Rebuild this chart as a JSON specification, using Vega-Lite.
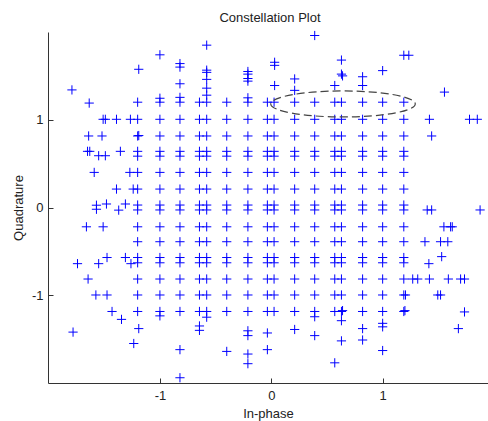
{
  "$schema": "https://vega.github.io/schema/vega-lite/v6.json",
  "width": 440,
  "height": 351,
  "autosize": "none",
  "padding": {"left": 48, "top": 32, "right": 0, "bottom": 38},
  "background": "white",
  "config": {"view": {"stroke": null}},
  "title": {"text": "Constellation Plot", "font": "Liberation Sans", "fontSize": 13, "fontWeight": "normal", "color": "#222222", "anchor": "middle", "baseline": "alphabetic", "offset": 11, "dx": 2, "dy": 17},
  "layer": [
    {
      "data": {"values": [
        {"i":-1.2,"q":1.2},{"i":-1.0,"q":1.2},{"i":-0.82,"q":1.2},{"i":-0.645,"q":1.2},{"i":-0.58,"q":1.2},{"i":-0.4,"q":1.2},{"i":-0.21,"q":1.2},{"i":-0.035,"q":1.2},{"i":0.025,"q":1.2},{"i":0.21,"q":1.2},{"i":0.39,"q":1.2},{"i":0.57,"q":1.2},{"i":0.63,"q":1.2},{"i":0.82,"q":1.2},{"i":1.0,"q":1.2},{"i":1.19,"q":1.2},
        {"i":-1.2,"q":1.005},{"i":-1.0,"q":1.005},{"i":-0.82,"q":1.005},{"i":-0.645,"q":1.005},{"i":-0.58,"q":1.005},{"i":-0.4,"q":1.005},{"i":-0.21,"q":1.005},{"i":-0.035,"q":1.005},{"i":0.025,"q":1.005},{"i":0.21,"q":1.005},{"i":0.39,"q":1.005},{"i":0.57,"q":1.005},{"i":0.63,"q":1.005},{"i":0.82,"q":1.005},{"i":1.0,"q":1.005},{"i":1.19,"q":1.005},
        {"i":-1.2,"q":0.815},{"i":-1.0,"q":0.815},{"i":-0.82,"q":0.815},{"i":-0.645,"q":0.815},{"i":-0.58,"q":0.815},{"i":-0.4,"q":0.815},{"i":-0.21,"q":0.815},{"i":-0.035,"q":0.815},{"i":0.025,"q":0.815},{"i":0.21,"q":0.815},{"i":0.39,"q":0.815},{"i":0.57,"q":0.815},{"i":0.63,"q":0.815},{"i":0.82,"q":0.815},{"i":1.0,"q":0.815},{"i":1.19,"q":0.815},
        {"i":-1.2,"q":0.64},{"i":-1.0,"q":0.64},{"i":-0.82,"q":0.64},{"i":-0.645,"q":0.64},{"i":-0.58,"q":0.64},{"i":-0.4,"q":0.64},{"i":-0.21,"q":0.64},{"i":-0.035,"q":0.64},{"i":0.025,"q":0.64},{"i":0.21,"q":0.64},{"i":0.39,"q":0.64},{"i":0.57,"q":0.64},{"i":0.63,"q":0.64},{"i":0.82,"q":0.64},{"i":1.0,"q":0.64},{"i":1.19,"q":0.64},
        {"i":-1.2,"q":0.585},{"i":-1.0,"q":0.585},{"i":-0.82,"q":0.585},{"i":-0.645,"q":0.585},{"i":-0.58,"q":0.585},{"i":-0.4,"q":0.585},{"i":-0.21,"q":0.585},{"i":-0.035,"q":0.585},{"i":0.025,"q":0.585},{"i":0.21,"q":0.585},{"i":0.39,"q":0.585},{"i":0.57,"q":0.585},{"i":0.63,"q":0.585},{"i":0.82,"q":0.585},{"i":1.0,"q":0.585},{"i":1.19,"q":0.585},
        {"i":-1.2,"q":0.4},{"i":-1.0,"q":0.4},{"i":-0.82,"q":0.4},{"i":-0.645,"q":0.4},{"i":-0.58,"q":0.4},{"i":-0.4,"q":0.4},{"i":-0.21,"q":0.4},{"i":-0.035,"q":0.4},{"i":0.025,"q":0.4},{"i":0.21,"q":0.4},{"i":0.39,"q":0.4},{"i":0.57,"q":0.4},{"i":0.63,"q":0.4},{"i":0.82,"q":0.4},{"i":1.0,"q":0.4},{"i":1.19,"q":0.4},
        {"i":-1.2,"q":0.21},{"i":-1.0,"q":0.21},{"i":-0.82,"q":0.21},{"i":-0.645,"q":0.21},{"i":-0.58,"q":0.21},{"i":-0.4,"q":0.21},{"i":-0.21,"q":0.21},{"i":-0.035,"q":0.21},{"i":0.025,"q":0.21},{"i":0.21,"q":0.21},{"i":0.39,"q":0.21},{"i":0.57,"q":0.21},{"i":0.63,"q":0.21},{"i":0.82,"q":0.21},{"i":1.0,"q":0.21},{"i":1.19,"q":0.21},
        {"i":-1.2,"q":0.028},{"i":-1.0,"q":0.028},{"i":-0.82,"q":0.028},{"i":-0.645,"q":0.028},{"i":-0.58,"q":0.028},{"i":-0.4,"q":0.028},{"i":-0.21,"q":0.028},{"i":-0.035,"q":0.028},{"i":0.025,"q":0.028},{"i":0.21,"q":0.028},{"i":0.39,"q":0.028},{"i":0.57,"q":0.028},{"i":0.63,"q":0.028},{"i":0.82,"q":0.028},{"i":1.0,"q":0.028},{"i":1.19,"q":0.028},
        {"i":-1.2,"q":-0.028},{"i":-1.0,"q":-0.028},{"i":-0.82,"q":-0.028},{"i":-0.645,"q":-0.028},{"i":-0.58,"q":-0.028},{"i":-0.4,"q":-0.028},{"i":-0.21,"q":-0.028},{"i":-0.035,"q":-0.028},{"i":0.025,"q":-0.028},{"i":0.21,"q":-0.028},{"i":0.39,"q":-0.028},{"i":0.57,"q":-0.028},{"i":0.63,"q":-0.028},{"i":0.82,"q":-0.028},{"i":1.0,"q":-0.028},{"i":1.19,"q":-0.028},
        {"i":-1.2,"q":-0.22},{"i":-1.0,"q":-0.22},{"i":-0.82,"q":-0.22},{"i":-0.645,"q":-0.22},{"i":-0.58,"q":-0.22},{"i":-0.4,"q":-0.22},{"i":-0.21,"q":-0.22},{"i":-0.035,"q":-0.22},{"i":0.025,"q":-0.22},{"i":0.21,"q":-0.22},{"i":0.39,"q":-0.22},{"i":0.57,"q":-0.22},{"i":0.63,"q":-0.22},{"i":0.82,"q":-0.22},{"i":1.0,"q":-0.22},{"i":1.19,"q":-0.22},
        {"i":-1.2,"q":-0.39},{"i":-1.0,"q":-0.39},{"i":-0.82,"q":-0.39},{"i":-0.645,"q":-0.39},{"i":-0.58,"q":-0.39},{"i":-0.4,"q":-0.39},{"i":-0.21,"q":-0.39},{"i":-0.035,"q":-0.39},{"i":0.025,"q":-0.39},{"i":0.21,"q":-0.39},{"i":0.39,"q":-0.39},{"i":0.57,"q":-0.39},{"i":0.63,"q":-0.39},{"i":0.82,"q":-0.39},{"i":1.0,"q":-0.39},{"i":1.19,"q":-0.39},
        {"i":-1.2,"q":-0.57},{"i":-1.0,"q":-0.57},{"i":-0.82,"q":-0.57},{"i":-0.645,"q":-0.57},{"i":-0.58,"q":-0.57},{"i":-0.4,"q":-0.57},{"i":-0.21,"q":-0.57},{"i":-0.035,"q":-0.57},{"i":0.025,"q":-0.57},{"i":0.21,"q":-0.57},{"i":0.39,"q":-0.57},{"i":0.57,"q":-0.57},{"i":0.63,"q":-0.57},{"i":0.82,"q":-0.57},{"i":1.0,"q":-0.57},{"i":1.19,"q":-0.57},
        {"i":-1.2,"q":-0.63},{"i":-1.0,"q":-0.63},{"i":-0.82,"q":-0.63},{"i":-0.645,"q":-0.63},{"i":-0.58,"q":-0.63},{"i":-0.4,"q":-0.63},{"i":-0.21,"q":-0.63},{"i":-0.035,"q":-0.63},{"i":0.025,"q":-0.63},{"i":0.21,"q":-0.63},{"i":0.39,"q":-0.63},{"i":0.57,"q":-0.63},{"i":0.63,"q":-0.63},{"i":0.82,"q":-0.63},{"i":1.0,"q":-0.63},{"i":1.19,"q":-0.63},
        {"i":-1.2,"q":-0.815},{"i":-1.0,"q":-0.815},{"i":-0.82,"q":-0.815},{"i":-0.645,"q":-0.815},{"i":-0.58,"q":-0.815},{"i":-0.4,"q":-0.815},{"i":-0.21,"q":-0.815},{"i":-0.035,"q":-0.815},{"i":0.025,"q":-0.815},{"i":0.21,"q":-0.815},{"i":0.39,"q":-0.815},{"i":0.57,"q":-0.815},{"i":0.63,"q":-0.815},{"i":0.82,"q":-0.815},{"i":1.0,"q":-0.815},{"i":1.19,"q":-0.815},
        {"i":-1.2,"q":-0.997},{"i":-1.0,"q":-0.997},{"i":-0.82,"q":-0.997},{"i":-0.645,"q":-0.997},{"i":-0.58,"q":-0.997},{"i":-0.4,"q":-0.997},{"i":-0.21,"q":-0.997},{"i":-0.035,"q":-0.997},{"i":0.025,"q":-0.997},{"i":0.21,"q":-0.997},{"i":0.39,"q":-0.997},{"i":0.57,"q":-0.997},{"i":0.63,"q":-0.997},{"i":0.82,"q":-0.997},{"i":1.0,"q":-0.997},{"i":1.19,"q":-0.997},
        {"i":-1.2,"q":-1.185},{"i":-1.0,"q":-1.185},{"i":-0.82,"q":-1.185},{"i":-0.645,"q":-1.185},{"i":-0.58,"q":-1.185},{"i":-0.4,"q":-1.185},{"i":-0.21,"q":-1.185},{"i":-0.035,"q":-1.185},{"i":0.025,"q":-1.185},{"i":0.21,"q":-1.185},{"i":0.39,"q":-1.185},{"i":0.57,"q":-1.185},{"i":0.63,"q":-1.185},{"i":0.82,"q":-1.185},{"i":1.0,"q":-1.185},{"i":1.19,"q":-1.185},
        {"i":-1.79,"q":1.34},{"i":-1.635,"q":1.19},{"i":-1.19,"q":1.575},{"i":-1.0,"q":1.74},{"i":-0.82,"q":1.64},{"i":-0.82,"q":1.6},{"i":-0.82,"q":1.41},{"i":-0.58,"q":1.85},{"i":-0.58,"q":1.565},{"i":-0.58,"q":1.54},{"i":-0.58,"q":1.46},{"i":-0.58,"q":1.36},{"i":-0.58,"q":1.28},{"i":-1.0,"q":1.245},{"i":-0.82,"q":1.255},{"i":-0.21,"q":1.25},{"i":-0.21,"q":1.55},{"i":-0.21,"q":1.52},{"i":-0.21,"q":1.47},{"i":-0.21,"q":1.44},
        {"i":-1.51,"q":1.005},{"i":-1.49,"q":1.005},{"i":-1.39,"q":1.005},{"i":-1.265,"q":1.005},
        {"i":-1.64,"q":0.815},{"i":-1.52,"q":0.815},{"i":-1.19,"q":0.82},
        {"i":-1.65,"q":0.64},{"i":-1.63,"q":0.64},{"i":-1.55,"q":0.59},{"i":-1.49,"q":0.59},{"i":-1.355,"q":0.64},
        {"i":-1.59,"q":0.4},{"i":-1.27,"q":0.4},
        {"i":-1.39,"q":0.21},{"i":-1.24,"q":0.21},
        {"i":-1.57,"q":0.026},{"i":-1.57,"q":-0.02},{"i":-1.48,"q":0.04},{"i":-1.37,"q":-0.03},{"i":-1.31,"q":0.04},
        {"i":-1.66,"q":-0.22},{"i":-1.51,"q":-0.22},
        {"i":-1.74,"q":-0.64},{"i":-1.55,"q":-0.64},{"i":-1.475,"q":-0.57},{"i":-1.31,"q":-0.57},{"i":-1.26,"q":-0.64},
        {"i":-1.645,"q":-0.815},
        {"i":-1.575,"q":-0.997},{"i":-1.475,"q":-0.997},
        {"i":-1.43,"q":-1.185},{"i":-1.345,"q":-1.275},
        {"i":-1.78,"q":-1.42},{"i":-1.19,"q":-1.38},{"i":-1.235,"q":-1.55},
        {"i":-1.0,"q":-1.235},
        {"i":-0.58,"q":-1.25},{"i":-0.645,"q":-1.35},{"i":-0.645,"q":-1.4},
        {"i":-0.82,"q":-1.62},{"i":-0.82,"q":-1.94},{"i":-0.4,"q":-1.64},
        {"i":-0.21,"q":-1.405},{"i":-0.21,"q":-1.46},{"i":-0.21,"q":-1.67},{"i":-0.21,"q":-1.78},
        {"i":-0.035,"q":-1.43},{"i":-0.035,"q":-1.62},
        {"i":0.21,"q":-1.39},{"i":0.39,"q":-1.245},{"i":0.39,"q":-1.46},{"i":0.63,"q":-1.29},{"i":0.64,"q":-1.175},{"i":0.63,"q":-1.52},{"i":0.57,"q":-1.77},{"i":0.82,"q":-1.38},{"i":0.82,"q":-1.51},{"i":1.0,"q":-1.32},{"i":1.0,"q":-1.36},{"i":1.0,"q":-1.63},{"i":1.68,"q":-1.38},{"i":1.735,"q":-1.19},{"i":1.2,"q":-1.175},
        {"i":1.205,"q":-0.997},{"i":1.495,"q":-0.997},{"i":1.52,"q":-0.997},
        {"i":1.27,"q":-0.815},{"i":1.315,"q":-0.815},{"i":1.42,"q":-0.815},{"i":1.59,"q":-0.815},{"i":1.7,"q":-0.815},{"i":1.735,"q":-0.815},
        {"i":1.415,"q":-0.64},{"i":1.53,"q":-0.56},
        {"i":1.38,"q":-0.39},{"i":1.52,"q":-0.39},{"i":1.585,"q":-0.39},
        {"i":1.55,"q":-0.22},{"i":1.61,"q":-0.22},{"i":1.625,"q":-0.22},
        {"i":1.4,"q":-0.028},{"i":1.44,"q":-0.028},{"i":1.875,"q":-0.028},
        {"i":0.39,"q":1.96},{"i":0.03,"q":1.655},{"i":0.03,"q":1.62},{"i":0.03,"q":1.39},{"i":0.21,"q":1.465},{"i":0.21,"q":1.335},{"i":0.63,"q":1.68},{"i":0.63,"q":1.52},{"i":0.64,"q":1.5},{"i":0.57,"q":1.39},{"i":0.82,"q":1.49},{"i":0.82,"q":1.39},{"i":1.0,"q":1.56},{"i":1.19,"q":1.735},{"i":1.235,"q":1.735},{"i":1.555,"q":1.315},{"i":1.42,"q":1.005},{"i":1.78,"q":1.005},{"i":1.85,"q":1.005},{"i":1.44,"q":0.815}
      ]},
      "mark": {"type": "point", "shape": "M-1,0L1,0M0,-1L0,1", "size": 85, "filled": false, "stroke": "#0000ff", "strokeWidth": 1, "opacity": 1},
      "encoding": {
        "x": {"field": "i", "type": "quantitative",
          "scale": {"domain": [-2.005, 1.946], "nice": false, "zero": false},
          "axis": {"values": [-1, 0, 1], "grid": false, "tickSize": -5, "labelPadding": 11, "labelExpr": "'' + datum.value",
            "domainColor": "#333333", "tickColor": "#333333", "labelColor": "#222222", "labelFont": "Liberation Sans", "labelFontSize": 13,
            "title": "In-phase", "titleFont": "Liberation Sans", "titleFontSize": 13, "titleFontWeight": "normal", "titleColor": "#222222",
            "titleBaseline": "alphabetic", "titleY": 34}},
        "y": {"field": "q", "type": "quantitative",
          "scale": {"domain": [-2, 2], "nice": false, "zero": false},
          "axis": {"values": [-1, 0, 1], "grid": false, "tickSize": -5, "labelPadding": 10, "labelExpr": "'' + datum.value",
            "domainColor": "#333333", "tickColor": "#333333", "labelColor": "#222222", "labelFont": "Liberation Sans", "labelFontSize": 13,
            "title": "Quadrature", "titleFont": "Liberation Sans", "titleFontSize": 13, "titleFontWeight": "normal", "titleColor": "#222222",
            "titleBaseline": "alphabetic", "titleX": -26}}
      }
    },
    {
      "data": {"values": [{"i": 0.644, "q": 1.18}]},
      "mark": {"type": "point", "shape": "M-1,0A1,0.18,0,1,0,1,0A1,0.18,0,1,0,-1,0", "size": 20880, "filled": false, "stroke": "#444444", "strokeWidth": 1.2, "strokeDash": [8, 4], "opacity": 1},
      "encoding": {
        "x": {"field": "i", "type": "quantitative"},
        "y": {"field": "q", "type": "quantitative"}
      }
    }
  ]
}
